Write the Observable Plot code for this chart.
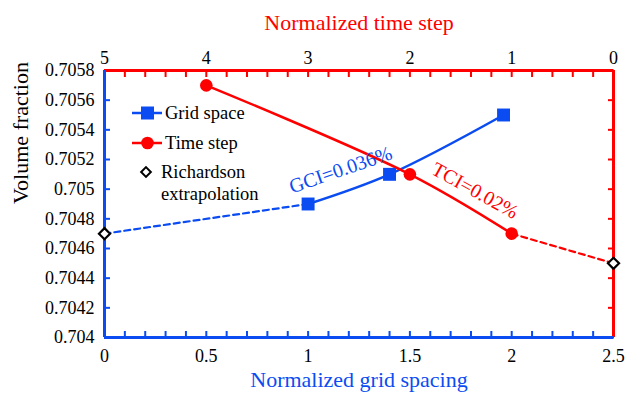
<!DOCTYPE html>
<html><head><meta charset="utf-8">
<script src="https://cdn.jsdelivr.net/npm/d3@7"></script>
<script src="https://cdn.jsdelivr.net/npm/@observablehq/plot@0.6"></script>
<style>
body{margin:0;background:#fff}
#wrap{position:relative;width:626px;height:400px;font-family:"Liberation Serif","Times New Roman","DejaVu Serif",serif}
#wrap svg, #wrap text{font-family:"Liberation Serif","Times New Roman","DejaVu Serif",serif}
#legend{position:absolute;left:0;top:0}
</style>
</head><body><div id="wrap"></div>
<script>
// ---- data ----
const gridSpacing = [1, 1.4, 1.96];
const gridValues = [0.7049, 0.7051, 0.7055];
const gridRichardsonX = 0;
const gridRichardsonY = 0.7047;
const timeSteps = [4, 2, 1];
const timeValues = [0.7057, 0.7051, 0.7047];
const timeRichardsonT = 0;
const timeRichardsonY = 0.7045;
const xTicks = [0, 0.5, 1, 1.5, 2, 2.5];
const xTickLabels = ["0", "0.5", "1", "1.5", "2", "2.5"];
const topTickLabels = ["5", "4", "3", "2", "1", "0"];
const xMinorTicks = [0,0.1,0.2,0.3,0.4,0.5,0.6,0.7,0.8,0.9,1,1.1,1.2,1.3,1.4,1.5,1.6,1.7,1.8,1.9,2,2.1,2.2,2.3,2.4,2.5];
const yTicks = [0.704, 0.7042, 0.7044, 0.7046, 0.7048, 0.705, 0.7052, 0.7054, 0.7056, 0.7058];
const yTickLabels = ["0.704", "0.7042", "0.7044", "0.7046", "0.7048", "0.705", "0.7052", "0.7054", "0.7056", "0.7058"];
const annotations = [
  {x: 1.16, y: 0.70513, text: "GCI=0.036%", series: "grid"},
  {x: 1.82, y: 0.70499, text: "TCI=0.02%", series: "time"}
];

// ---- derived tables ----
const FONT = '"Liberation Serif","Times New Roman","DejaVu Serif",serif';
const BLUE = "#0a4cf2", RED = "#ff0000";
const timeToX = t => (5 - t) / 2; // top axis: normalized time step
const gridPts = gridSpacing.map((x, i) => ({x, y: gridValues[i]}));
const timePts = timeSteps.map((t, i) => ({x: timeToX(t), y: timeValues[i]}));
const gridRich = {x: gridRichardsonX, y: gridRichardsonY};
const timeRich = {x: timeToX(timeRichardsonT), y: timeRichardsonY};

const chart = Plot.plot({
  width: 626, height: 400,
  marginLeft: 104, marginRight: 13, marginTop: 70, marginBottom: 63,
  style: {fontFamily: FONT, fontSize: "18px", background: "white", color: "black", overflow: "visible"},
  x: {domain: [0, 2.5], axis: null},
  y: {domain: [0.704, 0.7058], axis: null},
  marks: [
    // inward ticks
    Plot.axisX(xMinorTicks, {anchor: "bottom", tickSize: -6, tickFormat: () => "", stroke: BLUE, strokeWidth: 2, label: null}),
    Plot.axisX(xMinorTicks, {anchor: "top", tickSize: -6, tickFormat: () => "", stroke: RED, strokeWidth: 2, label: null}),
    Plot.axisY(yTicks, {anchor: "left", tickSize: -6, tickFormat: () => "", stroke: BLUE, strokeWidth: 2, label: null}),
    Plot.axisY(yTicks, {anchor: "right", tickSize: -6, tickFormat: () => "", stroke: RED, strokeWidth: 2, label: null}),
    // tick labels
    Plot.axisX(xTicks, {anchor: "bottom", tickSize: 0, tickPadding: 12, tickFormat: d => xTickLabels[xTicks.indexOf(d)], label: null, fontSize: 18}),
    Plot.axisX(xTicks, {anchor: "top", tickSize: 0, tickPadding: 7, tickFormat: d => topTickLabels[xTicks.indexOf(d)], label: null, fontSize: 18}),
    Plot.axisY(yTicks, {anchor: "left", tickSize: 0, tickPadding: 10, tickFormat: d => yTickLabels[yTicks.indexOf(d)], label: null, fontSize: 18}),
    // frame
    Plot.ruleY([0.7058], {stroke: RED, strokeWidth: 3}),
    Plot.ruleX([2.5], {stroke: RED, strokeWidth: 3}),
    Plot.ruleX([0], {stroke: BLUE, strokeWidth: 3}),
    Plot.ruleY([0.704], {stroke: BLUE, strokeWidth: 3}),
    // series
    Plot.line([gridRich, gridPts[0]], {x: "x", y: "y", stroke: BLUE, strokeWidth: 2.2, strokeDasharray: "6,4"}),
    Plot.line(gridPts, {x: "x", y: "y", stroke: BLUE, strokeWidth: 2.5, curve: "catmull-rom"}),
    Plot.line([timePts[timePts.length - 1], timeRich], {x: "x", y: "y", stroke: RED, strokeWidth: 2.2, strokeDasharray: "6,4"}),
    Plot.line(timePts, {x: "x", y: "y", stroke: RED, strokeWidth: 2.5, curve: "catmull-rom"}),
    Plot.dot(gridPts, {x: "x", y: "y", symbol: "square", r: 7.3, fill: BLUE}),
    Plot.dot(timePts, {x: "x", y: "y", symbol: "circle", r: 6.3, fill: RED}),
    Plot.dot([gridRich, timeRich], {x: "x", y: "y", symbol: "diamond2", r: 5, fill: "white", stroke: "black", strokeWidth: 2.2}),
    // annotations
    Plot.text(annotations.filter(d => d.series === "grid"), {x: "x", y: "y", text: "text", rotate: -19, fill: BLUE, fontSize: 20, fontFamily: FONT}),
    Plot.text(annotations.filter(d => d.series === "time"), {x: "x", y: "y", text: "text", rotate: 29, fill: RED, fontSize: 20, fontFamily: FONT}),
    // axis titles
    Plot.text(["Normalized time step"], {frameAnchor: "top", dy: -56, fill: RED, fontSize: 22, fontFamily: FONT}),
    Plot.text(["Normalized grid spacing"], {frameAnchor: "bottom", dy: 49, fill: BLUE, fontSize: 22, fontFamily: FONT}),
    Plot.text(["Volume fraction"], {frameAnchor: "left", dx: -84, rotate: -90, fill: "black", fontSize: 22, fontFamily: FONT})
  ]
});
const wrap = document.getElementById("wrap");
wrap.appendChild(chart);

// ---- legend overlay ----
const lg = d3.select(wrap).append("svg").attr("id", "legend").attr("width", 626).attr("height", 400)
  .attr("font-family", FONT).attr("font-size", "18.5px");
const legendItems = [
  {label: ["Grid space"], color: BLUE, shape: "square", y: 113},
  {label: ["Time step"], color: RED, shape: "circle", y: 143},
  {label: ["Richardson", "extrapolation"], color: "black", shape: "diamond", y: 172}
];
legendItems.forEach(it => {
  const g = lg.append("g");
  if (it.shape !== "diamond") {
    g.append("line").attr("x1", 132).attr("x2", 162).attr("y1", it.y).attr("y2", it.y).attr("stroke", it.color).attr("stroke-width", 2.5);
  }
  if (it.shape === "square") g.append("rect").attr("x", 141).attr("y", it.y - 6.5).attr("width", 13).attr("height", 13).attr("fill", it.color);
  if (it.shape === "circle") g.append("circle").attr("cx", 147.5).attr("cy", it.y).attr("r", 6.3).attr("fill", it.color);
  if (it.shape === "diamond") g.append("path").attr("d", d3.symbol(d3.symbolDiamond2, 60)()).attr("transform", `translate(146,${it.y})`).attr("fill", "white").attr("stroke", "black").attr("stroke-width", 2);
  const tx = it.shape === "diamond" ? 161 : 165;
  it.label.forEach((s, i) => {
    g.append("text").attr("x", tx).attr("y", it.y + i * 22).attr("dy", "0.35em").attr("fill", "black").text(s);
  });
});
</script>
</body></html>
